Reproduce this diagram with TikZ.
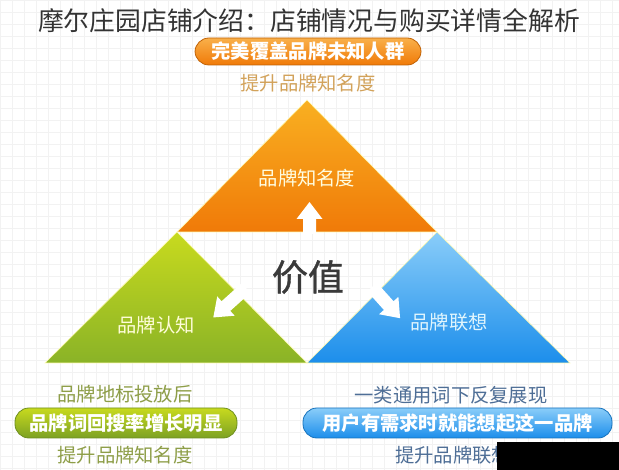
\documentclass[tikz,border=0pt]{standalone}
\usepackage{fontspec}
\setmainfont{Noto Sans CJK SC}
\newfontfamily\valfont{Noto Sans CJK SC}[FakeBold=1.2]
\definecolor{orT}{HTML}{F9B021}
\definecolor{orB}{HTML}{F07A08}
\definecolor{pillOrT}{HTML}{F9B04A}
\definecolor{grT}{HTML}{C8DA1E}
\definecolor{grB}{HTML}{8AB327}
\definecolor{blT}{HTML}{8ACDF9}
\definecolor{blB}{HTML}{1C8EEB}
\definecolor{tanTxt}{HTML}{D2A25A}
\definecolor{oliveTxt}{HTML}{8E9E48}
\definecolor{slateTxt}{HTML}{4E6E96}
\definecolor{titleTxt}{HTML}{333333}
\definecolor{valTxt}{HTML}{3A3A3A}
\begin{document}
\begin{tikzpicture}[x=1pt,y=1pt,
  fs/.style={font=\fontsize{#1}{#1}\selectfont},
  lbl/.style={inner sep=0pt, fs=19.3},
  pill/.style={rounded corners=14pt, inner sep=0pt, text=white, font=\fontsize{19.3}{19.3}\selectfont\bfseries, line width=0.8pt},
  tri/.style={draw=white!70!yellow, line width=0.6pt},
  fatarrow/.pic={\fill[white] (0,6.5) -- (#1-17,6.5) -- (#1-17,13) -- (#1,0) -- (#1-17,-13) -- (#1-17,-6.5) -- (0,-6.5) -- cycle;}
]
\useasboundingbox (0,0) rectangle (619,-470);
\fill[white] (0,0) rectangle (619,-470);
\draw[black!5, line width=0.5pt, step=12] (0,-470) grid (619,0);

% triangle corners
\coordinate (A) at (307,-100);
\coordinate (L) at (177,-232);
\coordinate (R) at (437,-232);
\coordinate (BL) at (45,-363);
\coordinate (BM) at (307,-363);
\coordinate (BR) at (570,-363);

\shade[tri, top color=orT, bottom color=orB] (A) -- (R) -- (L) -- cycle;
\shade[tri, top color=grT, bottom color=grB] (L) -- (BM) -- (BL) -- cycle;
\shade[tri, top color=blT, bottom color=blB] (R) -- (BR) -- (BM) -- cycle;

% arrows
\pic[rotate=90] at (309.5,-234) {fatarrow=32};
\pic[rotate=222] at (246,-288) {fatarrow=44};
\pic[rotate=-48] at (372,-287) {fatarrow=42};

% title
\node[fs=25.8, text=titleTxt, inner sep=0pt] (title) at (309,-21) {摩尔庄园店铺介绍：店铺情况与购买详情全解析};

% top pill
\node[pill, top color=pillOrT, bottom color=orB, draw=orB!80!black, minimum width=226, minimum height=27] (p1) at (308,-51.5) {完美覆盖品牌未知人群};
\node[lbl, text=tanTxt] (s1) at (308,-83) {提升品牌知名度};

% triangle labels
\node[lbl, text=white!88!yellow] (t1) at (307,-178) {品牌知名度};
\node[inner sep=0pt, font=\fontsize{36}{36}\valfont, text=valTxt] (val) at (308,-277) {价值};
\node[lbl, text=white!85!yellow] (t2) at (156,-325) {品牌认知};
\node[lbl, text=white!88!cyan] (t3) at (449,-322) {品牌联想};

% bottom left
\node[lbl, text=oliveTxt] (bl1) at (125,-394) {品牌地标投放后};
\node[pill, top color=grT, bottom color=grB!90!black, draw=grB!80!black, minimum width=222, minimum height=30] (p2) at (126,-423) {品牌词回搜率增长明显};
\node[lbl, text=oliveTxt] (bl2) at (125,-455) {提升品牌知名度};

% bottom right
\node[lbl, text=slateTxt] (br1) at (451,-395) {一类通用词下反复展现};
\node[pill, top color=blT, bottom color=blB, draw=blB!80!black, minimum width=309, minimum height=30] (p3) at (457.5,-423) {用户有需求时就能想起这一品牌};
\node[lbl, text=slateTxt, anchor=west] (br2) at (395,-455) {提升品牌联想};
\fill[black] (497,-442) rectangle (619,-470);
\end{tikzpicture}
\end{document}
